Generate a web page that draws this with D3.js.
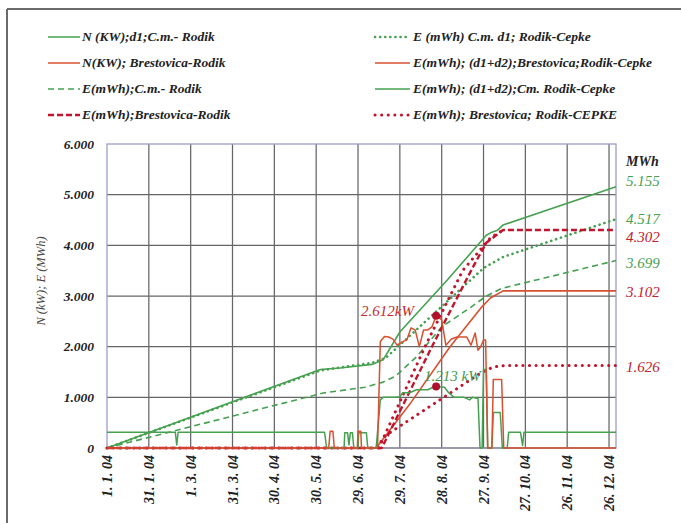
<!DOCTYPE html>
<html><head><meta charset="utf-8">
<script src="https://cdn.jsdelivr.net/npm/d3@7"></script>
<style>body{margin:0;background:#fff} svg{display:block}</style>
</head><body>
<svg id="c" width="681" height="523"></svg>
<script>
// ---------- data ----------
const xTickDays = [0,30,60,90,120,150,180,210,240,270,300,330,360];
const xTickLabels = ["1. 1. 04","31. 1. 04","1. 3. 04","31. 3. 04","30. 4. 04","30. 5. 04","29. 6. 04","29. 7. 04","28. 8. 04","27. 9. 04","27. 10. 04","26. 11. 04","26. 12. 04"];
const yTicks = [0,1000,2000,3000,4000,5000,6000];
const yTickLabels = ["0","1.000","2.000","3.000","4.000","5.000","6.000"];

// [day of year, value]
const nCmRodik = [[0,310],[49,310],[50,60],[51,310],[156,310],[157.5,0],[170,0],[170.5,300],[172.5,300],[173.5,60],[174.5,300],[176,300],[177,0],[180,0],[180.5,300],[186,300],[187,0],[193,0],[196,950],[198,1000],[206,1000],[210,1010],[212,1090],[217,1090],[222,1150],[230,1150],[235,1213],[242,1200],[245,1090],[249,1000],[256,1000],[260,950],[262,1000],[265,980],[266,1000],[267.5,0],[269,0],[270,1550],[272,1550],[273,0],[276,0],[277,700],[282,700],[283.5,0],[287,0],[288,310],[296.5,310],[298,50],[299,310],[365,310]];
const nBrestRodik = [[0,0],[159,0],[160,330],[162,330],[163,0],[179.5,0],[180,330],[182,330],[182.5,0],[194,0],[196,2100],[199,2200],[202,2190],[205,2150],[208,2030],[212,2100],[215,2130],[218,2370],[221,2330],[224,2000],[227,2330],[230,2330],[233,2390],[236,2612],[240,2530],[243,2030],[247,2150],[251,2190],[258,2190],[261,2030],[264,2270],[266,1930],[268,2000],[270,2130],[271.5,2130],[273,0],[276,0],[277,1350],[283,1350],[284.5,0],[365,0]];
const eCmRodik = [[0,0],[155,1085],[185,1200],[198,1300],[207,1420],[222,1800],[240,2390],[261,2780],[272,3000],[283,3150],[365,3699]];
const eBrestRodik = [[0,0],[197,0],[233,2000],[262,3550],[272,4050],[284,4302],[365,4302]];
const eCmD1Cepke = [[0,0],[153,1530],[190,1680],[200,1780],[270,3550],[284,3770],[365,4517]];
const eD12BrestCepke = [[0,0],[193,0],[218,900],[246,2000],[268,2760],[275,2960],[284,3102],[365,3102]];
const eD12CmCepke = [[0,0],[153,1550],[167,1580],[190,1650],[198,1740],[210,2290],[244,3315],[272,4200],[276,4260],[280,4300],[284,4400],[365,5155]];
const eBrestCepke = [[0,0],[193,0],[200,250],[268,1480],[277,1600],[285,1626],[365,1626]];
const eBrestSteepDotted = [[195,0],[228,2000],[255,3500],[275,4150],[284,4302]];

const legendLabels = ["N (KW);d1;C.m.- Rodik","N(KW); Brestovica-Rodik","E(mWh);C.m.- Rodik","E(mWh);Brestovica-Rodik",
  "E (mWh) C.m. d1; Rodik-Cepke","E(mWh); (d1+d2);Brestovica;Rodik-Cepke","E(mWh); (d1+d2);Cm. Rodik-Cepke","E(mWh); Brestovica; Rodik-CEPKE"];
const endValues = [5155,4517,4302,3699,3102,1626];
const endLabels = ["5.155","4.517","4.302","3.699","3.102","1.626"];
const peakDay = 236;
const peakValues = [2612,1213];
const peakLabels = ["2.612kW","1.213 kW"];

// ---------- styles ----------
const GREEN = "#45a150", ORANGE = "#d8502f", DRED = "#c3142e";
const styles = {
  nCm:   {c:GREEN, w:1.5, d:null},
  nBr:   {c:ORANGE, w:1.5, d:null},
  eCm:   {c:GREEN, w:1.6, d:"6,4"},
  eBr:   {c:DRED, w:2.4, d:"6,3"},
  eCmD1: {c:GREEN, w:2.6, d:"0.1,5", cap:"round"},
  eD12B: {c:ORANGE, w:1.6, d:null},
  eD12C: {c:GREEN, w:1.6, d:null},
  eBrC:  {c:DRED, w:3, d:"0.1,6.5", cap:"round"}
};

const svg = d3.select("#c");
const x = d3.scaleLinear().domain([0,365]).range([107,616]);
const y = d3.scaleLinear().domain([0,6000]).range([448,144]);

// outer frame
svg.append("line").attr("x1",7).attr("x2",681).attr("y1",9).attr("y2",9).attr("stroke","#6a6a6a").attr("stroke-width",2);
svg.append("line").attr("x1",7).attr("x2",7).attr("y1",9).attr("y2",523).attr("stroke","#6a6a6a").attr("stroke-width",2);

// grid
const g = svg.append("g");
g.selectAll(".hg").data(yTicks.slice(1,-1)).enter().append("line")
  .attr("x1",x(0)).attr("x2",x(365)).attr("y1",d=>y(d)).attr("y2",d=>y(d))
  .attr("stroke","#666").attr("stroke-width",1.25);
g.selectAll(".vg").data(xTickDays.slice(1)).enter().append("line")
  .attr("x1",d=>x(d)).attr("x2",d=>x(d)).attr("y1",y(6000)).attr("y2",y(0))
  .attr("stroke","#666").attr("stroke-width",1.25);
g.append("rect").attr("x",x(0)).attr("y",y(6000)).attr("width",x(365)-x(0)).attr("height",y(0)-y(6000))
  .attr("fill","none").attr("stroke","#9c9ccc").attr("stroke-width",1.3);
g.append("line").attr("x1",x(0)).attr("x2",x(365)).attr("y1",y(0)).attr("y2",y(0)).attr("stroke","#777").attr("stroke-width",1.2);

// y tick labels
const serif = "'Liberation Serif','DejaVu Serif',serif";
svg.selectAll(".yl").data(yTicks).enter().append("text")
  .attr("x",94).attr("y",d=>y(d)).attr("dy","0.35em").attr("text-anchor","end")
  .attr("font-family",serif).attr("font-style","italic").attr("font-weight","bold").attr("font-size",13.5)
  .attr("fill","#222").text((d,i)=>yTickLabels[i]);

// y title
svg.append("text").attr("transform","translate(45,281) rotate(-90)").attr("text-anchor","middle")
  .attr("font-family",serif).attr("font-style","italic").attr("font-size",12.5).attr("fill","#444")
  .text("N (kW); E (MWh)");

// x tick labels
svg.selectAll(".xl").data(xTickDays).enter().append("text")
  .attr("transform",d=>`translate(${x(d)+5},455) rotate(-90)`).attr("text-anchor","end")
  .attr("font-family",serif).attr("font-style","italic").attr("font-weight","bold").attr("font-size",14)
  .attr("fill","#222").text((d,i)=>xTickLabels[i]);

// lines
const line = d3.line().x(d=>x(d[0])).y(d=>y(d[1]));
function draw(data, s){
  const p = svg.append("path").datum(data).attr("d",line).attr("fill","none")
    .attr("stroke",s.c).attr("stroke-width",s.w).attr("stroke-linejoin","round");
  if(s.d) p.attr("stroke-dasharray",s.d);
  if(s.cap) p.attr("stroke-linecap",s.cap);
}
draw(eCmRodik, styles.eCm);
draw(eCmD1Cepke, styles.eCmD1);
draw(eD12CmCepke, styles.eD12C);
draw(eD12BrestCepke, styles.eD12B);
draw(eBrestCepke, styles.eBrC);
draw(eBrestSteepDotted, styles.eBrC);
draw(eBrestRodik, styles.eBr);
draw(nCmRodik, styles.nCm);
draw(nBrestRodik, styles.nBr);

// peak markers
svg.selectAll(".pk").data(peakValues).enter().append("circle")
  .attr("cx",x(peakDay)).attr("cy",d=>y(d)).attr("r",4).attr("fill","#b0102c");
svg.append("text").attr("x",414).attr("y",316).attr("text-anchor","end")
  .attr("font-family",serif).attr("font-style","italic").attr("font-size",15).attr("fill","#c8282c").text(peakLabels[0]);
svg.append("text").attr("x",424).attr("y",381)
  .attr("font-family",serif).attr("font-style","italic").attr("font-size",15).attr("fill","#3f9a4a").text(peakLabels[1]);

// right end labels
const endColors = [GREEN,GREEN,"#c0202e",GREEN,"#c0202e","#c0202e"];
const endDy = [-6,0,7,2,1,1];
svg.append("text").attr("x",626).attr("y",166).attr("font-family",serif).attr("font-style","italic")
  .attr("font-weight","bold").attr("font-size",14).attr("fill","#222").text("MWh");
svg.selectAll(".el").data(endValues).enter().append("text")
  .attr("x",626).attr("y",(d,i)=>y(d)+endDy[i]).attr("dy","0.35em")
  .attr("font-family",serif).attr("font-style","italic").attr("font-size",15)
  .attr("fill",(d,i)=>endColors[i]).text((d,i)=>endLabels[i]);

// legend
const legStyles = [styles.nCm, styles.nBr, styles.eCm, styles.eBr, styles.eCmD1, styles.eD12B, styles.eD12C, styles.eBrC];
const legRows = [37,63,89,115];
legendLabels.forEach((t,i)=>{
  const col = i<4?0:1, r = i%4;
  const x0 = col===0?48:375, x1 = col===0?80:410, tx = col===0?82:413;
  const s = legStyles[i];
  const ln = svg.append("line").attr("x1",x0).attr("x2",x1).attr("y1",legRows[r]).attr("y2",legRows[r])
    .attr("stroke",s.c).attr("stroke-width",s.w);
  if(s.d) ln.attr("stroke-dasharray",s.d);
  if(s.cap) ln.attr("stroke-linecap",s.cap);
  svg.append("text").attr("x",tx).attr("y",legRows[r]).attr("dy","0.33em")
    .attr("font-family",serif).attr("font-style","italic").attr("font-weight","bold").attr("font-size",13.5)
    .attr("fill","#222").text(t);
});
</script>
</body></html>
